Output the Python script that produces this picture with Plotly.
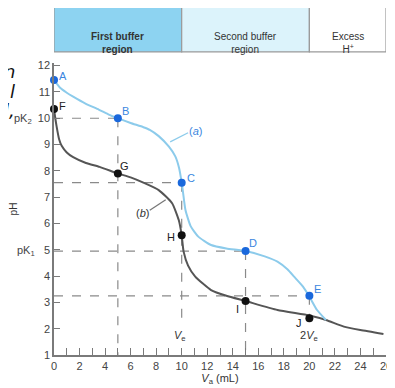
import plotly.graph_objects as go

# ---- data ----
curve_a_x = [0, 0.5, 1, 1.5, 2.5, 3.5, 4.25, 5, 6, 7, 7.5, 8.2, 9.0, 9.5, 9.8, 10, 10.1, 10.3, 10.7, 11.3, 12.3, 13.5, 15, 16.5, 17.5, 18.3, 18.8, 19.5, 20, 20.6, 21.3]
curve_a_y = [11.45, 11.15, 10.97, 10.82, 10.55, 10.33, 10.15, 10.0, 9.82, 9.66, 9.56, 9.32, 8.92, 8.55, 8.1, 7.55, 7.2, 6.5, 5.9, 5.5, 5.18, 5.05, 4.95, 4.75, 4.55, 4.25, 3.98, 3.6, 3.22, 2.71, 2.33]

curve_b_x = [0, 0.1, 0.2, 0.4, 0.6, 1.0, 1.5, 2.5, 3.57, 5, 6, 7, 8.2, 9.25, 9.77, 10, 10.15, 10.5, 11.06, 12.3, 13.5, 15, 17.5, 20, 21.3, 22.7, 24, 25.8]
curve_b_y = [10.35, 10.0, 9.7, 9.2, 8.95, 8.7, 8.52, 8.3, 8.15, 7.9, 7.75, 7.55, 7.27, 6.77, 6.13, 5.55, 4.93, 4.4, 3.98, 3.47, 3.25, 3.05, 2.71, 2.5, 2.33, 2.08, 1.95, 1.8]

pts_a_names = ["A", "B", "C", "D", "E"]
pts_a_x = [0, 5, 10, 15, 20]
pts_a_y = [11.45, 10.0, 7.55, 4.95, 3.25]

pts_b_names = ["F", "G", "H", "I", "J"]
pts_b_x = [0, 5, 10, 15, 20]
pts_b_y = [10.35, 7.9, 5.55, 3.05, 2.4]

band_edges = [0, 10, 20, 26]
band_labels = ["<b>First buffer</b><br><b>region</b>", "Second buffer<br>region", "Excess<br>H<sup>+</sup>"]
band_colors = ["#8dd3f1", "#dcf3fb", "#ffffff"]

y_tickvals = list(range(1, 13))
y_ticktext = ["1", "2", "3", "4", "pK<sub>1</sub>   5", "6", "7", "8", "9", "pK<sub>2</sub>  10", "11", "12"]
x_tickvals = list(range(0, 27, 2))

FONT = "Liberation Sans, Arial, sans-serif"
BLUE_LINE = "#8ccbeb"
BLUE_PT = "#1a68dc"
BLUE_TXT = "#3b86e0"
GRAY = "#7a7a7a"

fig = go.Figure()

# dashed guide lines derived from the point data
for px, py in zip(pts_a_x[1:], pts_a_y[1:]):
    fig.add_shape(type="line", x0=0, x1=px, y0=py, y1=py, xref="x", yref="y",
                  line=dict(color="#8a8a8a", width=1.2, dash="dash"), layer="below")
for px, py in zip(pts_a_x[1:], pts_a_y[1:]):
    if px == 10:
        y_end = 2.1
    elif px == 20:
        y_end = pts_b_y[-1]
    else:
        y_end = 1
    fig.add_shape(type="line", x0=px, x1=px, y0=py, y1=y_end, xref="x", yref="y",
                  line=dict(color="#8a8a8a", width=1.2, dash="dash"), layer="below")

fig.add_trace(go.Scatter(x=curve_b_x, y=curve_b_y, mode="lines", line=dict(color="#555555", width=2, shape="spline", smoothing=0.5), hoverinfo="skip", cliponaxis=False))
fig.add_trace(go.Scatter(x=curve_a_x, y=curve_a_y, mode="lines", line=dict(color=BLUE_LINE, width=2, shape="spline", smoothing=0.5), hoverinfo="skip", cliponaxis=False))

fig.add_trace(go.Scatter(x=pts_a_x, y=pts_a_y, mode="markers", marker=dict(color=BLUE_PT, size=8), cliponaxis=False))
fig.add_trace(go.Scatter(x=pts_b_x, y=pts_b_y, mode="markers", marker=dict(color="#111111", size=8), cliponaxis=False))

# point labels
a_off = [(0.7, 0.15), (0.6, 0.28), (0.7, 0.17), (0.6, 0.3), (0.6, 0.25)]
for n, x, y, (dx, dy) in zip(pts_a_names, pts_a_x, pts_a_y, a_off):
    fig.add_annotation(x=x + dx, y=y + dy, text=n, showarrow=False, font=dict(family=FONT, size=11, color=BLUE_TXT))
b_off = [(0.7, 0.12), (0.5, 0.28), (-0.8, -0.08), (-0.6, -0.3), (-0.8, -0.2)]
for n, x, y, (dx, dy) in zip(pts_b_names, pts_b_x, pts_b_y, b_off):
    fig.add_annotation(x=x + dx, y=y + dy, text=n, showarrow=False, font=dict(family=FONT, size=11, color="#222222"))

# curve labels
fig.add_shape(type="line", x0=9.1, y0=9.1, x1=10.5, y1=9.45, line=dict(color=BLUE_LINE, width=1.3))
fig.add_annotation(x=11.1, y=9.5, text="(<i>a</i>)", showarrow=False, font=dict(family=FONT, size=11, color=BLUE_TXT))
fig.add_shape(type="line", x0=7.5, y0=6.5, x1=8.75, y1=6.9, line=dict(color="#777777", width=1.3))
fig.add_annotation(x=6.9, y=6.38, text="(<i>b</i>)", showarrow=False, font=dict(family=FONT, size=11, color="#333333"))

fig.add_annotation(x=9.9, y=1.72, text="<i>V</i><sub>e</sub>", showarrow=False, font=dict(family=FONT, size=11, color="#333333"))
fig.add_annotation(x=20.0, y=1.72, text="2<i>V</i><sub>e</sub>", showarrow=False, font=dict(family=FONT, size=11, color="#333333"))

# top region band
for i, lab in enumerate(band_labels):
    fig.add_shape(type="rect", x0=band_edges[i], x1=band_edges[i + 1], y0=1.038, y1=1.199,
                  xref="x", yref="paper", fillcolor=band_colors[i], line=dict(color="#9a9a9a", width=1.2))
    fig.add_annotation(x=(band_edges[i] + band_edges[i + 1]) / 2, y=1.118, xref="x", yref="paper",
                       text=lab, showarrow=False, font=dict(family=FONT, size=10, color="#333333"))

# cropped fragments at left edge
for txt, yy in [("n", 1.015), ("l", 0.945), ("l,", 0.88)]:
    fig.add_annotation(x=-0.112, y=yy, xref="paper", yref="paper", text="<i>" + txt + "</i>", showarrow=False,
                       xanchor="right", font=dict(family="DejaVu Sans", size=18, color="#111111"))

fig.update_xaxes(range=[0, 26], showline=True, linecolor=GRAY, linewidth=1.5, showgrid=False, zeroline=False,
                 automargin=False, ticklabeloverflow="allow",
                 tickvals=x_tickvals, ticks="inside", ticklen=7, tickcolor=GRAY, tickwidth=1,
                 minor=dict(dtick=1, tick0=0, ticks="inside", ticklen=7, tickcolor=GRAY),
                 tickfont=dict(family=FONT, size=11, color="#444444"),
                 title=dict(text="<i>V</i><sub>a</sub> (mL)", font=dict(family=FONT, size=11, color="#333333"), standoff=1))
fig.update_yaxes(range=[1, 12.1], showline=True, linecolor=GRAY, linewidth=1.5, showgrid=False, zeroline=False,
                 automargin=False,
                 tickvals=y_tickvals, ticktext=y_ticktext, ticks="inside", ticklen=6, tickcolor=GRAY,
                 tickfont=dict(family=FONT, size=11, color="#444444"),
                 title=dict(text="pH", font=dict(family=FONT, size=10, color="#333333"), standoff=33))

# page body has an 8px margin: size the figure so the plot lands where the reference has it
fig.update_layout(width=387, height=380, margin=dict(l=46, r=9, t=55, b=33), showlegend=False,
                  plot_bgcolor="white", paper_bgcolor="white")

fig.write_html("out.html")
